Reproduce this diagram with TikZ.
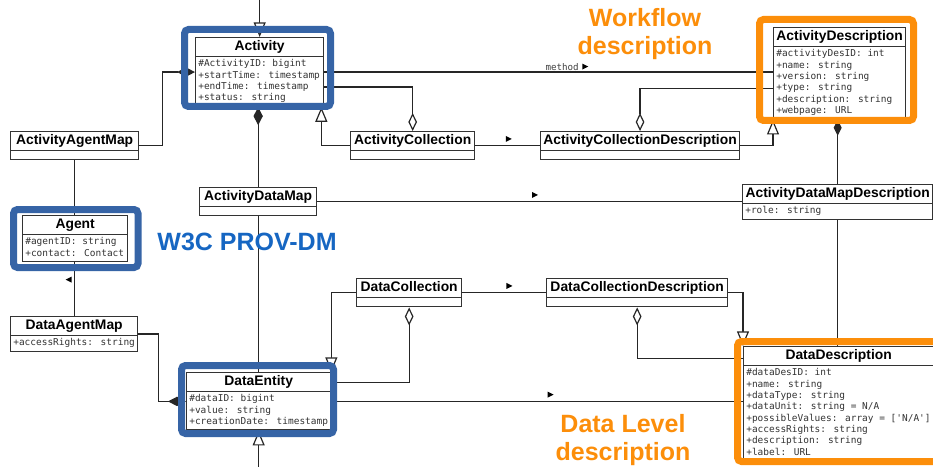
\documentclass[tikz,border=0pt]{standalone}
\usepackage{fontspec}
\usepackage{tikz}
\usetikzlibrary{arrows.meta,positioning,shapes.multipart,shapes.geometric}
\setmainfont{Liberation Sans}
\newfontfamily\umltitle{Liberation Sans}
\newfontfamily\umlattr{DejaVu Sans Mono}
\definecolor{provblue}{RGB}{54,100,166}
\definecolor{provtext}{RGB}{22,102,194}
\definecolor{wforange}{RGB}{252,142,10}
\newcommand{\tstrut}{\rule[-2.6pt]{0pt}{10.6pt}}
\newcommand{\nofields}{\rule{0pt}{3.5pt}}
\newcommand{\cname}[1]{{\fontsize{10.4pt}{12pt}\selectfont\umltitle\bfseries\color{black}\tstrut#1}}
\newcommand{\fields}[1]{\begin{tabular}{@{}l@{}}#1\end{tabular}}
\tikzset{
  umlclass/.style={
    rectangle split,
    rectangle split parts=2,
    rectangle split part align={center,left},
    draw=black!80, line width=1pt, fill=white,
    inner xsep=2pt, inner ysep=1.25pt,
    anchor=north west,
    font=\fontsize{7.1pt}{8.5pt}\selectfont\umlattr,
    text=black!80,
  },
  assoc/.style={draw=black!85, line width=0.9pt},
  compose/.style={assoc, -{Diamond[length=13.5pt, width=7pt]}},
  aggr/.style={assoc, -{Diamond[open, fill=white, length=13.5pt, width=6.5pt]}},
  gen/.style={assoc, -{Triangle[open, fill=white, length=11pt, width=9pt]}},
  dirmark/.style={
    isosceles triangle, isosceles triangle stretches,
    fill=black, inner sep=0pt,
    minimum width=4.5pt, minimum height=4.5pt,
  },
  lblfont/.style={font=\fontsize{6.9pt}{8pt}\selectfont\umlattr, text=black!75, inner sep=1pt},
  notetext/.style={font=\fontsize{18.75pt}{20.5pt}\selectfont\bfseries, align=center, inner sep=0pt},
  hlbox/.style={line width=5.25pt, rounded corners=3pt},
}

\begin{document}
\begin{tikzpicture}[x=0.75pt, y=-0.75pt]
  \useasboundingbox (0,0) rectangle (933,467);
  \coordinate (topEdge) at (0,0);
  \coordinate (bottomEdge) at (0,467);

  % activity side
  \node[umlclass, minimum width=96pt] (Activity) at (195,37)
    {\cname{Activity}\nodepart{two}\fields{\#ActivityID: bigint\\+startTime: timestamp\\+endTime: timestamp\\+status: string}};
  \node[umlclass, minimum width=96pt] (AAMap) at (10,131)
    {\cname{ActivityAgentMap}\nodepart{two}\nofields};
  \node[umlclass, minimum width=78.75pt] (Agent) at (22,215)
    {\cname{Agent}\nodepart{two}\fields{\#agentID: string\\+contact: Contact}};
  \node[umlclass, minimum width=95.25pt] (DAMap) at (10,316)
    {\cname{DataAgentMap}\nodepart{two}\fields{+accessRights: string}};
  \node[umlclass, minimum width=93pt] (ACol) at (350,131)
    {\cname{ActivityCollection}\nodepart{two}\nofields};
  \node[umlclass, minimum width=148.5pt] (ACD) at (540,131)
    {\cname{ActivityCollectionDescription}\nodepart{two}\nofields};
  \node[umlclass, minimum width=99pt] (ADesc) at (773,27)
    {\cname{ActivityDescription}\nodepart{two}\fields{\#activityDesID: int\\+name: string\\+version: string\\+type: string\\+description: string\\+webpage: URL}};
  \node[umlclass, minimum width=87.75pt] (ADMap) at (199,187)
    {\cname{ActivityDataMap}\nodepart{two}\nofields};
  \node[umlclass, minimum width=142.5pt] (ADMD) at (742,184)
    {\cname{ActivityDataMapDescription}\nodepart{two}\fields{+role: string}};

  % data side
  \node[umlclass, minimum width=78.75pt] (DCol) at (356,278)
    {\cname{DataCollection}\nodepart{two}\nofields};
  \node[umlclass, minimum width=135.75pt] (DCD) at (546,278)
    {\cname{DataCollectionDescription}\nodepart{two}\nofields};
  \node[umlclass, minimum width=107.25pt] (DataEntity) at (186,372)
    {\cname{DataEntity}\nodepart{two}\fields{\#dataID: bigint\\+value: string\\+creationDate: timestamp}};
  \node[umlclass, minimum width=142.5pt] (DDesc) at (743,346)
    {\cname{DataDescription}\nodepart{two}\fields{\#dataDesID: int\\+name: string\\+dataType: string\\+dataUnit: string = N/A\\+possibleValues: array = ['N/A']\\+accessRights: string\\+description: string\\+label: URL}};

  % relations
  \draw[gen] (Activity.north |- topEdge) -- (Activity.north);
  \draw[compose] (AAMap.east) -- ++(23,0) |- (Activity.west);
  \draw[assoc] (AAMap.south) -- (AAMap.south |- Agent.north);
  \draw[assoc] (DAMap.north) -- (DAMap.north |- Agent.south)
    node[dirmark, pos=0.68, shape border rotate=180, left=1.5pt] {};
  \draw[compose] (DAMap.east) -- ++(20,0) |- (DataEntity.west);
  \draw[compose] (ADMap.north) -- (ADMap.north |- Activity.south);
  \draw[assoc] (ADMap.south) -- (ADMap.south |- DataEntity.north);
  \draw[gen] (DataEntity.south |- bottomEdge) -- (DataEntity.south);

  \draw[assoc] (Activity.east) -- (Activity.east -| ADesc.west)
    node[lblfont, pos=0.53, above] (methodLbl) {method};
  \node[dirmark, right=1pt of methodLbl] {};
  \draw[aggr] ([yshift=-11.25pt]Activity.east) -| (ACol.north);
  \draw[gen] (ACol.west) -| ([xshift=-2.25pt]Activity.south east);
  \draw[assoc] (ACol.east) -- (ACD.west) node[dirmark, midway, above=3pt] {};
  \draw[aggr] ([yshift=-11.25pt]ADesc.west) -| (ACD.north);
  \draw[gen] (ACD.east) -| (ADesc.south west);
  \draw[assoc] (ADMap.east) -- (ADMap.east -| ADMD.west)
    node[dirmark, pos=0.51, above=3pt] {};
  \draw[assoc, -{Diamond[length=12pt, width=6pt]}] (ADMD.north) -- (ADMD.north |- ADesc.south);
  \draw[assoc] (ADMD.south) -- (ADMD.south |- DDesc.north);

  \draw[gen] (DCol.west) -| (DataEntity.north east);
  \draw[aggr] ([yshift=14.25pt]DataEntity.east) -| (DCol.south);
  \draw[assoc] (DataEntity.east) -- (DataEntity.east -| DDesc.west)
    node[dirmark, pos=0.53, above=3pt] {};
  \draw[assoc] (DCol.east) -- (DCD.west) node[dirmark, pos=0.55, above=3pt] {};
  \draw[aggr] ([yshift=33.75pt]DDesc.west) -| (DCD.south);
  \draw[gen] (DCD.east) -| (DDesc.north west);

  % highlighted groups
  \draw[hlbox, provblue] (184.5,29.5) rectangle (330.5,106.5);
  \draw[hlbox, provblue] (13.5,209.5) rectangle (138,267.5);
  \draw[hlbox, provblue] (181.5,365.5) rectangle (333.5,433.5);
  \draw[hlbox, wforange] (759.5,19.5) rectangle (913.5,120.5);
  \draw[hlbox, wforange] (737.5,341.5) rectangle (945,461.5);

  \node[notetext, text=wforange] (wfNote) at (645,34) {Workflow\\description};
  \node[notetext, text=provtext] (provNote) at (247,242) {W3C PROV-DM};
  \node[notetext, text=wforange] (dataNote) at (623,440) {Data Level\\description};
\end{tikzpicture}
\end{document}
